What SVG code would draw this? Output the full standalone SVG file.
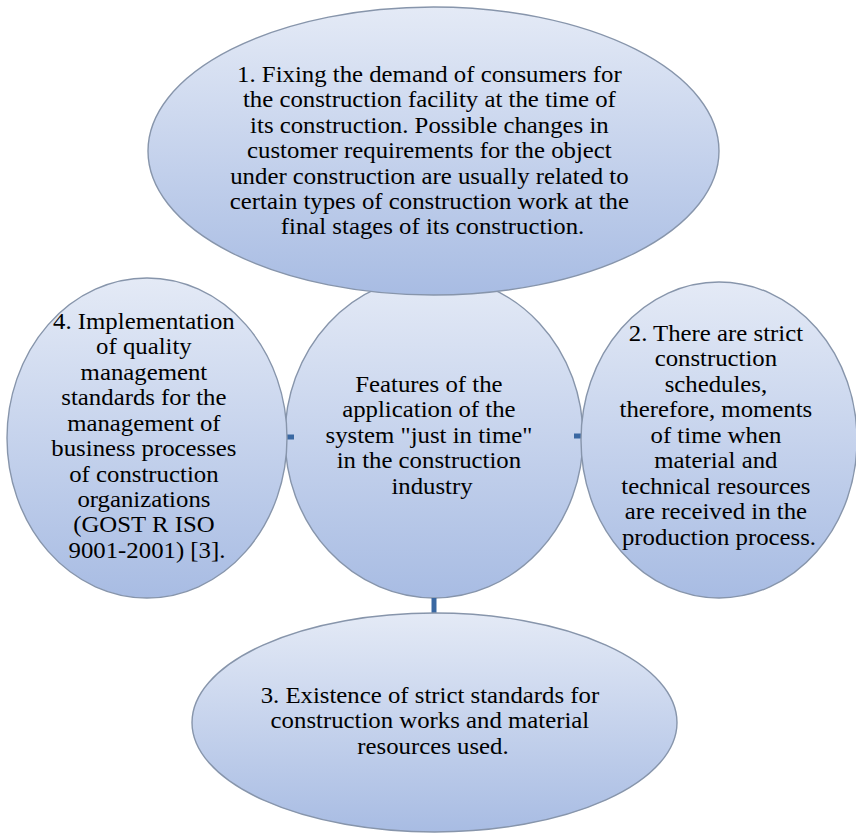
<svg xmlns="http://www.w3.org/2000/svg" width="856" height="835" viewBox="0 0 856 835">
<defs>
<linearGradient id="fill" x1="0" y1="0" x2="0" y2="1">
<stop offset="0" stop-color="#e4eaf6"/>
<stop offset="1" stop-color="#a8bce3"/>
</linearGradient>
<style>
.shape{fill:url(#fill);stroke:#8795ab;stroke-width:1.4}
.t{font-family:'Liberation Serif','Times New Roman',Tinos,'Noto Serif','DejaVu Serif',FreeSerif,Times,serif;font-size:23.5px;fill:#000;text-anchor:middle}
.conn{stroke:#3a68a2;stroke-width:5;fill:none}
</style>
</defs>
<rect width="856" height="835" fill="#fff"/>
<g id="center">
<ellipse class="shape" cx="434" cy="437" rx="149" ry="161"/>
<text class="t" transform="matrix(1.055 0 0 1 432 0)">
<tspan x="0" y="392">Features of the</tspan>
<tspan x="0" y="417.5">application of the</tspan>
<tspan x="0" y="443">system "just in time"</tspan>
<tspan x="0" y="468.5">in the construction</tspan>
<tspan x="0" y="494">industry</tspan>
</text>
</g>
<g id="connectors">
<line class="conn" x1="287" y1="437" x2="294" y2="437"/>
<line class="conn" x1="574" y1="436" x2="581" y2="436"/>
<line class="conn" x1="434" y1="598" x2="434" y2="613"/>
</g>
<g id="node1">
<ellipse class="shape" cx="433.5" cy="151" rx="285.5" ry="144"/>
<text class="t" transform="matrix(1.055 0 0 1 432.5 0)">
<tspan x="0" y="82">1. Fixing the demand of consumers for</tspan>
<tspan x="0" y="107.4">the construction facility at the time of</tspan>
<tspan x="0" y="132.8">its construction. Possible changes in</tspan>
<tspan x="0" y="158.2">customer requirements for the object</tspan>
<tspan x="0" y="183.6">under construction are usually related to</tspan>
<tspan x="0" y="209">certain types of construction work at the</tspan>
<tspan x="0" y="234.4">final stages of its construction.</tspan>
</text>
</g>
<g id="node2">
<ellipse class="shape" cx="719" cy="440" rx="138" ry="158"/>
<text class="t" transform="matrix(1.055 0 0 1 719 0)">
<tspan x="0" y="341">2. There are strict</tspan>
<tspan x="0" y="366.5">construction</tspan>
<tspan x="0" y="392">schedules,</tspan>
<tspan x="0" y="417.5">therefore, moments</tspan>
<tspan x="0" y="443">of time when</tspan>
<tspan x="0" y="468.5">material and</tspan>
<tspan x="0" y="494">technical resources</tspan>
<tspan x="0" y="519.5">are received in the</tspan>
<tspan x="0" y="545">production process.</tspan>
</text>
</g>
<g id="node3">
<ellipse class="shape" cx="434.5" cy="722.5" rx="242.5" ry="109.5"/>
<text class="t" transform="matrix(1.055 0 0 1 433 0)">
<tspan x="0" y="703">3. Existence of strict standards for</tspan>
<tspan x="0" y="728.5">construction works and material</tspan>
<tspan x="0" y="754">resources used.</tspan>
</text>
</g>
<g id="node4">
<ellipse class="shape" cx="147" cy="438" rx="140" ry="160"/>
<text class="t" transform="matrix(1.055 0 0 1 147 0)">
<tspan x="0" y="329">4. Implementation</tspan>
<tspan x="0" y="354.4">of quality</tspan>
<tspan x="0" y="379.9">management</tspan>
<tspan x="0" y="405.3">standards for the</tspan>
<tspan x="0" y="430.8">management of</tspan>
<tspan x="0" y="456.2">business processes</tspan>
<tspan x="0" y="481.6">of construction</tspan>
<tspan x="0" y="507.1">organizations</tspan>
<tspan x="0" y="532.5">(GOST R ISO</tspan>
<tspan x="0" y="558">9001-2001) [3].</tspan>
</text>
</g>
</svg>
